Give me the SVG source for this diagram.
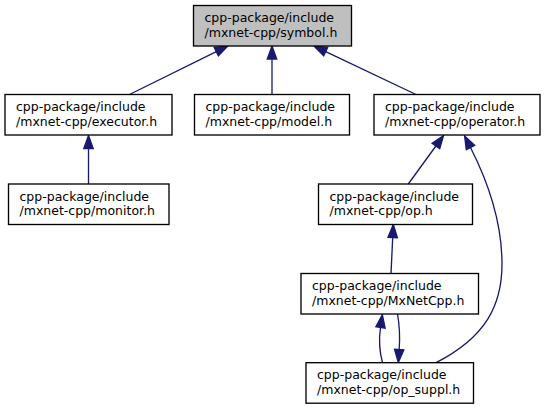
<svg xmlns="http://www.w3.org/2000/svg" width="545" height="409" viewBox="0 0 545 409">
<style>
.node rect{fill:#ffffff;stroke:#000000;stroke-width:1.33}
.node.root rect{fill:#bfbfbf}
.node text{font-family:"DejaVu Sans","Liberation Sans",sans-serif;font-size:12.5px;fill:#000000}
.edges path{fill:none;stroke:#191970;stroke-width:1.33}
</style>
<defs>
<marker id="ah" markerUnits="userSpaceOnUse" markerWidth="14" markerHeight="12" refX="0" refY="5" orient="auto" overflow="visible">
<path d="M0,0.3 L13,5 L0,9.7 z" fill="#191970" stroke="#191970" stroke-width="1.33"/>
</marker>
</defs>
<rect width="545" height="409" fill="#ffffff"/>
<g class="edges">
<path d="M129.5,94.5 L216.3,51.7" marker-end="url(#ah)"/>
<path d="M272,94.5 L272,59" marker-end="url(#ah)"/>
<path d="M416,94.5 L325.7,51.6" marker-end="url(#ah)"/>
<path d="M88.5,184 L88.5,148.5" marker-end="url(#ah)"/>
<path d="M408.3,184 L435.9,146" marker-end="url(#ah)"/>
<path d="M436,362.7 C486,337 502,305 502,264 C502,218 486,178 470.5,147.5" marker-end="url(#ah)"/>
<path d="M391,273.5 L392.7,237.5" marker-end="url(#ah)"/>
<path d="M382.5,362.7 C379,350 379,338 380.5,327.5" marker-end="url(#ah)"/>
<path d="M397.5,314 C399.5,325 400,338 399.2,349.5" marker-end="url(#ah)"/>
</g>
<g id="node-symbol" class="node root">
<rect x="193.5" y="5.5" width="158" height="40.5"/>
<text x="204.5" y="22">cpp-package/include</text>
<text x="204.5" y="36.5">/mxnet-cpp/symbol.h</text>
</g>
<g id="node-executor" class="node">
<rect x="5" y="94.5" width="167" height="40.5"/>
<text x="16" y="111">cpp-package/include</text>
<text x="16" y="125.5">/mxnet-cpp/executor.h</text>
</g>
<g id="node-model" class="node">
<rect x="194.5" y="94.5" width="155" height="40.5"/>
<text x="205.5" y="111">cpp-package/include</text>
<text x="205.5" y="125.5">/mxnet-cpp/model.h</text>
</g>
<g id="node-operator" class="node">
<rect x="374" y="94.5" width="166" height="40.5"/>
<text x="385" y="111">cpp-package/include</text>
<text x="385" y="125.5">/mxnet-cpp/operator.h</text>
</g>
<g id="node-monitor" class="node">
<rect x="8.5" y="184" width="160.5" height="40.5"/>
<text x="19.5" y="200.5">cpp-package/include</text>
<text x="19.5" y="215">/mxnet-cpp/monitor.h</text>
</g>
<g id="node-op" class="node">
<rect x="318.5" y="184" width="154" height="40.5"/>
<text x="329.5" y="200.5">cpp-package/include</text>
<text x="329.5" y="215">/mxnet-cpp/op.h</text>
</g>
<g id="node-mxnetcpp" class="node">
<rect x="301" y="273.5" width="177.5" height="40.5"/>
<text x="312" y="290">cpp-package/include</text>
<text x="312" y="304.5">/mxnet-cpp/MxNetCpp.h</text>
</g>
<g id="node-opsuppl" class="node">
<rect x="306" y="362.7" width="167.5" height="40.5"/>
<text x="317" y="379.2">cpp-package/include</text>
<text x="317" y="393.7">/mxnet-cpp/op_suppl.h</text>
</g>
</svg>
